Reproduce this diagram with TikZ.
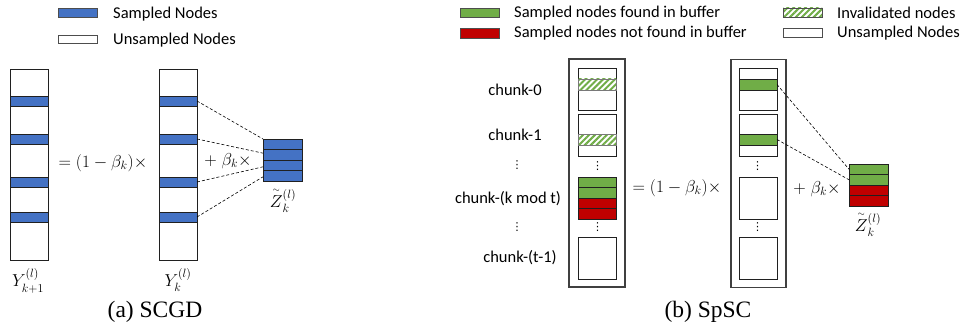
\documentclass[tikz,border=0pt]{standalone}
\usepackage{fontspec}
\usepackage{amsmath}
\setmainfont{Carlito}
\newfontfamily\capfont{Liberation Serif}
\newfontfamily\dotfont{DejaVu Sans}
\usetikzlibrary{patterns.meta,calc}
\definecolor{sblue}{HTML}{4472C4}
\definecolor{sgreen}{HTML}{70AD47}
\definecolor{sred}{HTML}{C00000}
\definecolor{edge}{HTML}{202020}
\definecolor{outer}{HTML}{404040}
\newcommand{\ztil}{{\smash[t]{\overset{\scriptscriptstyle\sim}{Z}}\vphantom{Z}}}
\tikzset{
  cell/.style={draw=edge, line width=0.8pt, fill=white, inner sep=0pt, outer sep=0pt, minimum width=38pt},
  colbox/.style={cell, minimum height=191pt},
  chunkbox/.style={cell, minimum height=42pt},
  outerbox/.style={draw=outer, line width=1.3pt, inner sep=0pt, outer sep=0pt, minimum width=55pt, minimum height=228pt},
  bluecell/.style={cell, fill=sblue, minimum height=10pt},
  greencell/.style={cell, fill=sgreen, minimum height=10.5pt},
  redcell/.style={cell, fill=sred, minimum height=10.5pt},
  hatchfill/.style={preaction={fill=white},
     pattern={Lines[angle=45,distance=4.2pt,line width=2pt]}, pattern color=sgreen},
  hatchcell/.style={cell, minimum height=11pt, draw=edge!60, hatchfill},
  legrect/.style={draw=edge!80, line width=0.8pt, inner sep=0pt, outer sep=0pt, minimum width=39pt, minimum height=9.5pt},
  lbl/.style={font=\fontsize{16.5}{19}\selectfont, inner sep=0pt},
  leglbl/.style={lbl, anchor=west},
  dotlbl/.style={font=\dotfont\fontsize{11}{11}\selectfont, inner sep=0pt},
  mth/.style={font=\fontsize{17}{19}\selectfont, inner sep=0pt},
  vlabel/.style={font=\fontsize{17.5}{19}\selectfont, inner sep=0pt},
  captext/.style={font=\capfont\fontsize{23.5}{26}\selectfont, inner sep=0pt},
  link/.style={densely dashed, line width=0.6pt, draw=black},
}
\begin{document}
\begin{tikzpicture}[x=1pt,y=-1pt]
\useasboundingbox (0,0) rectangle (963,326);

% ---------- (a) SCGD ----------
% legend
\node[legrect, fill=sblue] (la1) at (77.5,13) {};
\node[legrect, fill=white, minimum height=8pt] (la2) at (77.5,39) {};
\node[leglbl] (lat1) at (113,14) {Sampled Nodes};
\node[leglbl] (lat2) at (113,40) {Unsampled Nodes};

% Y_{k+1}
\node[colbox] (ya) at (29,164.5) {};
\node[bluecell] (ya1) at (29,101) {};
\node[bluecell] (ya2) at (29,139) {};
\node[bluecell] (ya3) at (29,182) {};
\node[bluecell] (ya4) at (29,217) {};
\node[vlabel] (yal) at (28,281) {$Y_{k+1}^{(l)}$};

\node[mth] (eqa) at (103,163) {$= (1-\beta_k)\times$};

% Y_k
\node[colbox] (yb) at (178,164.5) {};
\node[bluecell] (yb1) at (178,101) {};
\node[bluecell] (yb2) at (178,139) {};
\node[bluecell] (yb3) at (178,182) {};
\node[bluecell] (yb4) at (178,217) {};
\node[vlabel] (ybl) at (178,280) {$Y_{k}^{(l)}$};

\node[mth] (pla) at (228,161) {$+\;\beta_k\times$};

% Z tilde
\node[bluecell, minimum width=39pt, minimum height=10.5pt] (za1) at (282.5,144.25) {};
\node[bluecell, minimum width=39pt, minimum height=10.5pt] (za2) at (282.5,154.75) {};
\node[bluecell, minimum width=39pt, minimum height=10.5pt] (za3) at (282.5,165.25) {};
\node[bluecell, minimum width=39pt, minimum height=10.5pt] (za4) at (282.5,175.75) {};
\node[vlabel] (zal) at (283,201) {$\ztil_{k}^{(l)}$};

\draw[link] (yb1.east) -- (za1.north west);
\draw[link] (yb2.east) -- ($(za2.west)!0.3!(za2.north west)$);
\draw[link] (yb3.east) -- ($(za3.west)!0.3!(za3.south west)$);
\draw[link] (yb4.east) -- ($(za4.west)!0.2!(za4.south west)$);

\node[captext] (capa) at (155,312) {(a) SCGD};

% ---------- (b) SpSC ----------
% legend
\node[legrect, fill=sgreen] (lb1) at (479.5,13) {};
\node[legrect, fill=sred] (lb2) at (479.5,33.5) {};
\node[leglbl] (lbt1) at (514,13) {Sampled nodes found in buffer};
\node[leglbl] (lbt2) at (514,33.5) {Sampled nodes not found in buffer};
\node[legrect, minimum height=9pt, hatchfill] (lb3) at (802.5,12.5) {};
\node[legrect, fill=white, minimum height=9pt] (lb4) at (802.5,32.5) {};
\node[leglbl] (lbt3) at (837,13) {Invalidated nodes};
\node[leglbl] (lbt4) at (837,33.5) {Unsampled Nodes};

% chunk labels
\node[lbl] (ck0) at (515,90) {chunk-0};
\node[lbl] (ck1) at (515,135) {chunk-1};
\node[dotlbl] (ckd1) at (517,165) {⋮};
\node[lbl] (ckk) at (508,199) {chunk-(k mod t)};
\node[dotlbl] (ckd2) at (517,227) {⋮};
\node[lbl] (ckt) at (520,258) {chunk-(t-1)};

% first buffer
\node[outerbox, minimum width=56pt] (ob1) at (597,173) {};
\node[chunkbox] (p0) at (597.5,89) {};
\node[hatchcell] (p0h) at (597.5,84.5) {};
\node[chunkbox] (p1) at (597.5,135) {};
\node[hatchcell] (p1h) at (597.5,139.5) {};
\node[dotlbl] (pd1) at (597.5,166) {⋮};
\node[greencell] (pk1) at (597.5,182.25) {};
\node[greencell] (pk2) at (597.5,192.75) {};
\node[redcell] (pk3) at (597.5,203.25) {};
\node[redcell] (pk4) at (597.5,213.75) {};
\node[dotlbl] (pd2) at (597.5,227.5) {⋮};
\node[chunkbox] (pt) at (597.5,258) {};

\node[mth] (eqb) at (677,188) {$= (1-\beta_k)\times$};

% second buffer
\node[outerbox] (ob2) at (758.5,173.5) {};
\node[chunkbox] (q0) at (758,89) {};
\node[greencell, minimum height=11pt] (q0g) at (758,84.5) {};
\node[chunkbox] (q1) at (758,135) {};
\node[greencell, minimum height=11pt] (q1g) at (758,139.5) {};
\node[dotlbl] (qd1) at (757.5,166) {⋮};
\node[chunkbox] (q2) at (758,198) {};
\node[dotlbl] (qd2) at (757.5,227.5) {⋮};
\node[chunkbox] (q3) at (758,258) {};

\node[mth] (plb) at (817,189) {$+\;\beta_k\times$};

% Z tilde (b)
\node[greencell, minimum width=39pt] (zb1) at (868.5,169.25) {};
\node[greencell, minimum width=39pt] (zb2) at (868.5,179.75) {};
\node[redcell, minimum width=39pt] (zb3) at (868.5,190.25) {};
\node[redcell, minimum width=39pt] (zb4) at (868.5,200.75) {};
\node[vlabel] (zbl) at (868,225) {$\ztil_{k}^{(l)}$};

\draw[link] (q0g.east) -- (zb1.west);
\draw[link] (q1g.east) -- (zb2.west);

\node[captext] (capb) at (708,312) {(b) SpSC};
\end{tikzpicture}
\end{document}
